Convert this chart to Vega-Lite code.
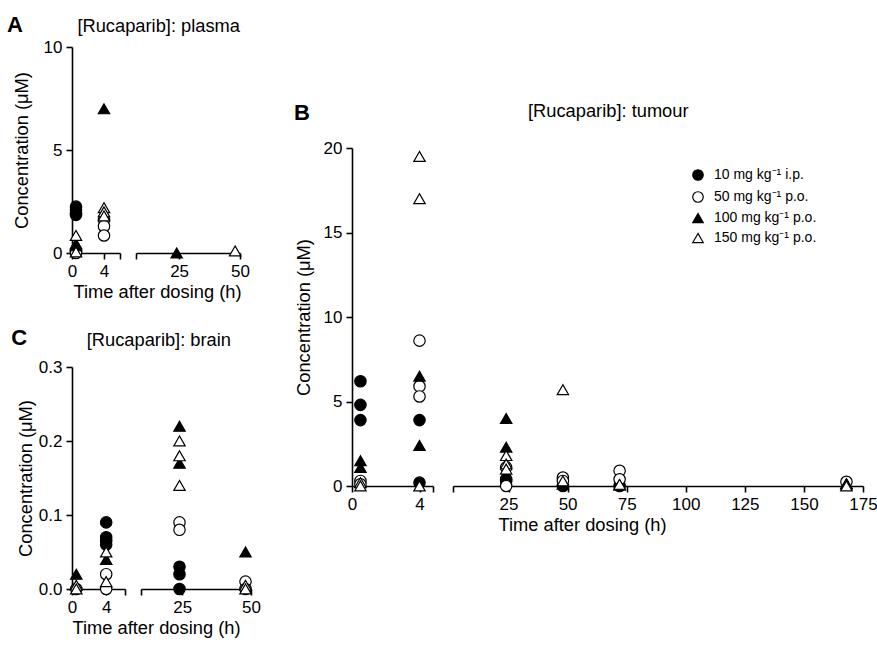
{
  "$schema": "https://vega.github.io/schema/vega-lite/v6.json",
  "padding": {"left": 7, "top": 14, "right": 1, "bottom": 2},
  "autosize": {"type": "pad"},
  "datasets": {
    "plasma": [
      {"t": 0.5, "dose": "10 mg kg⁻¹ i.p.", "c": 2.25},
      {"t": 0.5, "dose": "10 mg kg⁻¹ i.p.", "c": 2.1},
      {"t": 0.5, "dose": "10 mg kg⁻¹ i.p.", "c": 1.95},
      {"t": 0.5, "dose": "10 mg kg⁻¹ i.p.", "c": 1.85},
      {"t": 0.5, "dose": "50 mg kg⁻¹ p.o.", "c": 0.1},
      {"t": 0.5, "dose": "50 mg kg⁻¹ p.o.", "c": 0.0},
      {"t": 4, "dose": "50 mg kg⁻¹ p.o.", "c": 1.6},
      {"t": 4, "dose": "50 mg kg⁻¹ p.o.", "c": 1.3},
      {"t": 4, "dose": "50 mg kg⁻¹ p.o.", "c": 0.85},
      {"t": 0.5, "dose": "100 mg kg⁻¹ p.o.", "c": 0.45},
      {"t": 0.5, "dose": "100 mg kg⁻¹ p.o.", "c": 0.35},
      {"t": 4, "dose": "100 mg kg⁻¹ p.o.", "c": 7.0},
      {"t": 24, "dose": "100 mg kg⁻¹ p.o.", "c": 0.0},
      {"t": 0.5, "dose": "150 mg kg⁻¹ p.o.", "c": 0.85},
      {"t": 0.5, "dose": "150 mg kg⁻¹ p.o.", "c": 0.05},
      {"t": 4, "dose": "150 mg kg⁻¹ p.o.", "c": 2.2},
      {"t": 4, "dose": "150 mg kg⁻¹ p.o.", "c": 2.0},
      {"t": 4, "dose": "150 mg kg⁻¹ p.o.", "c": 1.8},
      {"t": 48, "dose": "150 mg kg⁻¹ p.o.", "c": 0.1}
    ],
    "brain": [
      {"t": 4, "dose": "10 mg kg⁻¹ i.p.", "c": 0.09},
      {"t": 4, "dose": "10 mg kg⁻¹ i.p.", "c": 0.07},
      {"t": 4, "dose": "10 mg kg⁻¹ i.p.", "c": 0.065},
      {"t": 4, "dose": "10 mg kg⁻¹ i.p.", "c": 0.06},
      {"t": 24, "dose": "10 mg kg⁻¹ i.p.", "c": 0.03},
      {"t": 24, "dose": "10 mg kg⁻¹ i.p.", "c": 0.02},
      {"t": 24, "dose": "10 mg kg⁻¹ i.p.", "c": 0.0},
      {"t": 0.5, "dose": "50 mg kg⁻¹ p.o.", "c": 0.0},
      {"t": 4, "dose": "50 mg kg⁻¹ p.o.", "c": 0.02},
      {"t": 4, "dose": "50 mg kg⁻¹ p.o.", "c": 0.0},
      {"t": 24, "dose": "50 mg kg⁻¹ p.o.", "c": 0.09},
      {"t": 24, "dose": "50 mg kg⁻¹ p.o.", "c": 0.08},
      {"t": 48, "dose": "50 mg kg⁻¹ p.o.", "c": 0.01},
      {"t": 48, "dose": "50 mg kg⁻¹ p.o.", "c": 0.0},
      {"t": 0.5, "dose": "100 mg kg⁻¹ p.o.", "c": 0.02},
      {"t": 4, "dose": "100 mg kg⁻¹ p.o.", "c": 0.04},
      {"t": 24, "dose": "100 mg kg⁻¹ p.o.", "c": 0.22},
      {"t": 24, "dose": "100 mg kg⁻¹ p.o.", "c": 0.17},
      {"t": 48, "dose": "100 mg kg⁻¹ p.o.", "c": 0.05},
      {"t": 0.5, "dose": "150 mg kg⁻¹ p.o.", "c": 0.005},
      {"t": 0.5, "dose": "150 mg kg⁻¹ p.o.", "c": 0.0},
      {"t": 4, "dose": "150 mg kg⁻¹ p.o.", "c": 0.05},
      {"t": 4, "dose": "150 mg kg⁻¹ p.o.", "c": 0.01},
      {"t": 24, "dose": "150 mg kg⁻¹ p.o.", "c": 0.2},
      {"t": 24, "dose": "150 mg kg⁻¹ p.o.", "c": 0.18},
      {"t": 24, "dose": "150 mg kg⁻¹ p.o.", "c": 0.14},
      {"t": 48, "dose": "150 mg kg⁻¹ p.o.", "c": 0.005},
      {"t": 48, "dose": "150 mg kg⁻¹ p.o.", "c": 0.0}
    ],
    "tumour": [
      {"t": 0.5, "dose": "10 mg kg⁻¹ i.p.", "c": 6.2},
      {"t": 0.5, "dose": "10 mg kg⁻¹ i.p.", "c": 4.8},
      {"t": 0.5, "dose": "10 mg kg⁻¹ i.p.", "c": 3.9},
      {"t": 4, "dose": "10 mg kg⁻¹ i.p.", "c": 3.9},
      {"t": 4, "dose": "10 mg kg⁻¹ i.p.", "c": 0.2},
      {"t": 24, "dose": "10 mg kg⁻¹ i.p.", "c": 0.4},
      {"t": 24, "dose": "10 mg kg⁻¹ i.p.", "c": 0.3},
      {"t": 48, "dose": "10 mg kg⁻¹ i.p.", "c": 0.0},
      {"t": 72, "dose": "10 mg kg⁻¹ i.p.", "c": 0.0},
      {"t": 0.5, "dose": "50 mg kg⁻¹ p.o.", "c": 0.3},
      {"t": 0.5, "dose": "50 mg kg⁻¹ p.o.", "c": 0.1},
      {"t": 4, "dose": "50 mg kg⁻¹ p.o.", "c": 8.6},
      {"t": 4, "dose": "50 mg kg⁻¹ p.o.", "c": 5.9},
      {"t": 4, "dose": "50 mg kg⁻¹ p.o.", "c": 5.3},
      {"t": 24, "dose": "50 mg kg⁻¹ p.o.", "c": 1.1},
      {"t": 24, "dose": "50 mg kg⁻¹ p.o.", "c": 0.0},
      {"t": 48, "dose": "50 mg kg⁻¹ p.o.", "c": 0.5},
      {"t": 48, "dose": "50 mg kg⁻¹ p.o.", "c": 0.3},
      {"t": 72, "dose": "50 mg kg⁻¹ p.o.", "c": 0.9},
      {"t": 72, "dose": "50 mg kg⁻¹ p.o.", "c": 0.4},
      {"t": 168, "dose": "50 mg kg⁻¹ p.o.", "c": 0.25},
      {"t": 0.5, "dose": "100 mg kg⁻¹ p.o.", "c": 1.5},
      {"t": 0.5, "dose": "100 mg kg⁻¹ p.o.", "c": 1.1},
      {"t": 4, "dose": "100 mg kg⁻¹ p.o.", "c": 6.5},
      {"t": 4, "dose": "100 mg kg⁻¹ p.o.", "c": 2.4},
      {"t": 24, "dose": "100 mg kg⁻¹ p.o.", "c": 4.0},
      {"t": 24, "dose": "100 mg kg⁻¹ p.o.", "c": 2.3},
      {"t": 48, "dose": "100 mg kg⁻¹ p.o.", "c": 0.1},
      {"t": 72, "dose": "100 mg kg⁻¹ p.o.", "c": 0.05},
      {"t": 168, "dose": "100 mg kg⁻¹ p.o.", "c": 0.15},
      {"t": 0.5, "dose": "150 mg kg⁻¹ p.o.", "c": 0.2},
      {"t": 0.5, "dose": "150 mg kg⁻¹ p.o.", "c": 0.0},
      {"t": 4, "dose": "150 mg kg⁻¹ p.o.", "c": 19.5},
      {"t": 4, "dose": "150 mg kg⁻¹ p.o.", "c": 17.0},
      {"t": 4, "dose": "150 mg kg⁻¹ p.o.", "c": 0.0},
      {"t": 24, "dose": "150 mg kg⁻¹ p.o.", "c": 1.8},
      {"t": 24, "dose": "150 mg kg⁻¹ p.o.", "c": 1.3},
      {"t": 24, "dose": "150 mg kg⁻¹ p.o.", "c": 1.0},
      {"t": 48, "dose": "150 mg kg⁻¹ p.o.", "c": 5.7},
      {"t": 48, "dose": "150 mg kg⁻¹ p.o.", "c": 0.3},
      {"t": 72, "dose": "150 mg kg⁻¹ p.o.", "c": 0.1},
      {"t": 168, "dose": "150 mg kg⁻¹ p.o.", "c": 0.1},
      {"t": 168, "dose": "150 mg kg⁻¹ p.o.", "c": 0.0}
    ]
  },
  "hconcat": [
    {
      "vconcat": [
        {
          "hconcat": [
            {
              "width": 48, "height": 206,
              "data": {"name": "plasma"},
              "transform": [{"filter": "datum.t < 6"}],
              "title": {"text": "A", "anchor": "start", "frame": "bounds", "fontSize": 22, "fontWeight": "bold", "offset": 1, "dx": -5},
              "mark": {"type": "point", "filled": true, "stroke": "black", "strokeWidth": 1.2, "size": 130, "opacity": 1, "clip": false},
              "encoding": {
                "x": {"field": "t", "type": "quantitative", "scale": {"domain": [0, 6], "nice": false, "zero": false},
                      "axis": {"values": [0, 4, 6], "labelExpr": "datum.value == 6 ? '' : datum.label", "title": null, "labelFlush": false}},
                "y": {"field": "c", "type": "quantitative", "scale": {"domain": [0, 10], "nice": false},
                      "axis": {"values": [0, 5, 10], "title": "Concentration (μM)", "titlePadding": 12}},
                "shape": {"field": "dose", "type": "nominal", "legend": {"title": null}, "scale": {"domain": ["10 mg kg⁻¹ i.p.", "50 mg kg⁻¹ p.o.", "100 mg kg⁻¹ p.o.", "150 mg kg⁻¹ p.o."], "range": ["circle", "circle", "triangle-up", "triangle-up"]}},
                "fill": {"field": "dose", "type": "nominal", "legend": {"title": null}, "scale": {"domain": ["10 mg kg⁻¹ i.p.", "50 mg kg⁻¹ p.o.", "100 mg kg⁻¹ p.o.", "150 mg kg⁻¹ p.o."], "range": ["black", "white", "black", "white"]}}
              }
            },
            {
              "width": 104, "height": 206,
              "data": {"name": "plasma"},
              "transform": [{"filter": "datum.t > 6"}],
              "title": {"text": "[Rucaparib]: plasma", "anchor": "end", "frame": "group", "fontSize": 18.3, "offset": 11, "dx": 0},
              "mark": {"type": "point", "filled": true, "stroke": "black", "strokeWidth": 1.2, "size": 130, "opacity": 1, "clip": false},
              "encoding": {
                "x": {"field": "t", "type": "quantitative", "scale": {"domain": [7.3, 50], "nice": false, "zero": false},
                      "axis": {"values": [7.3, 25, 50], "labelExpr": "datum.value < 10 ? '' : datum.label", "title": "Time after dosing (h)", "titleX": 21, "titleAlign": "center", "labelFlush": false}},
                "y": {"field": "c", "type": "quantitative", "scale": {"domain": [0, 10], "nice": false}, "axis": null},
                "shape": {"field": "dose", "type": "nominal", "legend": {"title": null}},
                "fill": {"field": "dose", "type": "nominal", "legend": {"title": null}}
              }
            }
          ],
          "spacing": 16,
          "bounds": "flush"
        },
        {
          "hconcat": [
            {
              "width": 53, "height": 222,
              "data": {"name": "brain"},
              "transform": [{"filter": "datum.t < 6"}],
              "title": {"text": "C", "anchor": "start", "frame": "bounds", "fontSize": 22, "fontWeight": "bold", "offset": 8, "dx": -5},
              "mark": {"type": "point", "filled": true, "stroke": "black", "strokeWidth": 1.2, "size": 130, "opacity": 1, "clip": false},
              "encoding": {
                "x": {"field": "t", "type": "quantitative", "scale": {"domain": [0, 6.2], "nice": false, "zero": false},
                      "axis": {"values": [0, 4, 6.2], "labelExpr": "datum.value > 6 ? '' : datum.label", "title": null, "labelFlush": false}},
                "y": {"field": "c", "type": "quantitative", "scale": {"domain": [0, 0.3], "nice": false},
                      "axis": {"values": [0, 0.1, 0.2, 0.3], "format": ".1f", "title": "Concentration (μM)", "titlePadding": 3}},
                "shape": {"field": "dose", "type": "nominal", "legend": {"title": null}},
                "fill": {"field": "dose", "type": "nominal", "legend": {"title": null}}
              }
            },
            {
              "width": 110, "height": 222,
              "data": {"name": "brain"},
              "transform": [{"filter": "datum.t > 6"}],
              "title": {"text": "[Rucaparib]: brain", "anchor": "end", "frame": "group", "fontSize": 18.3, "offset": 17, "dx": -20},
              "mark": {"type": "point", "filled": true, "stroke": "black", "strokeWidth": 1.2, "size": 130, "opacity": 1, "clip": false},
              "encoding": {
                "x": {"field": "t", "type": "quantitative", "scale": {"domain": [10, 50], "nice": false, "zero": false},
                      "axis": {"values": [10, 25, 50], "labelExpr": "datum.value < 11 ? '' : datum.label", "title": "Time after dosing (h)", "titleX": 15, "titleAlign": "center", "labelFlush": false}},
                "y": {"field": "c", "type": "quantitative", "scale": {"domain": [0, 0.3], "nice": false}, "axis": null},
                "shape": {"field": "dose", "type": "nominal", "legend": {"title": null}},
                "fill": {"field": "dose", "type": "nominal", "legend": {"title": null}}
              }
            }
          ],
          "spacing": 16,
          "bounds": "flush"
        }
      ],
      "spacing": 26
    },
    {
      "vconcat": [
        {
          "width": 10, "height": 34,
          "data": {"values": []},
          "mark": "point"
        },
        {
          "hconcat": [
            {
              "width": 81, "height": 338,
              "data": {"name": "tumour"},
              "transform": [{"filter": "datum.t < 6"}],
              "title": {"text": "B", "anchor": "start", "frame": "bounds", "fontSize": 22, "fontWeight": "bold", "offset": 14, "dx": 0},
              "mark": {"type": "point", "filled": true, "stroke": "black", "strokeWidth": 1.2, "size": 130, "opacity": 1, "clip": false},
              "encoding": {
                "x": {"field": "t", "type": "quantitative", "scale": {"domain": [0, 4.8], "nice": false, "zero": false},
                      "axis": {"values": [0, 4, 4.8], "labelExpr": "datum.value > 4.5 ? '' : datum.label", "title": null, "labelFlush": false}},
                "y": {"field": "c", "type": "quantitative", "scale": {"domain": [0, 20], "nice": false},
                      "axis": {"values": [0, 5, 10, 15, 20], "title": "Concentration (μM)", "titlePadding": 10}},
                "shape": {"field": "dose", "type": "nominal", "legend": {"title": null}},
                "fill": {"field": "dose", "type": "nominal", "legend": {"title": null}}
              }
            },
            {
              "width": 410, "height": 338,
              "data": {"name": "tumour"},
              "transform": [{"filter": "datum.t > 6"}],
              "title": {"text": "[Rucaparib]: tumour", "anchor": "start", "frame": "group", "fontSize": 18.3, "offset": 27, "dx": 75},
              "mark": {"type": "point", "filled": true, "stroke": "black", "strokeWidth": 1.2, "size": 130, "opacity": 1, "clip": false},
              "encoding": {
                "x": {"field": "t", "type": "quantitative", "scale": {"domain": [1.5, 175], "nice": false, "zero": false},
                      "axis": {"values": [1.5, 25, 50, 75, 100, 125, 150, 175], "labelExpr": "datum.value < 10 ? '' : datum.label", "title": "Time after dosing (h)", "titleX": 129, "titleAlign": "center", "labelFlush": false}},
                "y": {"field": "c", "type": "quantitative", "scale": {"domain": [0, 20], "nice": false}, "axis": null},
                "shape": {"field": "dose", "type": "nominal", "legend": {"title": null}},
                "fill": {"field": "dose", "type": "nominal", "legend": {"title": null}}
              }
            }
          ],
          "spacing": 20,
          "bounds": "flush"
        }
      ],
      "spacing": 20
    }
  ],
  "spacing": 33,
  "config": {
    "view": {"stroke": null},
    "font": "Liberation Sans",
    "axis": {
      "domainColor": "black", "domainWidth": 1.6, "tickColor": "black", "tickWidth": 1.6, "tickSize": 6,
      "labelColor": "black", "titleColor": "black", "labelFont": "Liberation Sans", "titleFont": "Liberation Sans",
      "labelFontSize": 17, "titleFontSize": 18.3, "titleFontWeight": "normal", "grid": false, "labelPadding": 4, "titlePadding": 4
    },
    "title": {"font": "Liberation Sans", "fontWeight": "normal", "color": "black"},
    "legend": {
      "orient": "none", "legendX": 619, "legendY": 121,
      "labelFont": "Liberation Sans", "labelFontSize": 14, "labelColor": "black",
      "symbolSize": 110, "symbolStrokeColor": "black", "symbolStrokeWidth": 1.2, "rowPadding": 6, "labelOffset": 9,
      "symbolFillColor": "white",
      "symbolType": "circle"
    }
  }
}
